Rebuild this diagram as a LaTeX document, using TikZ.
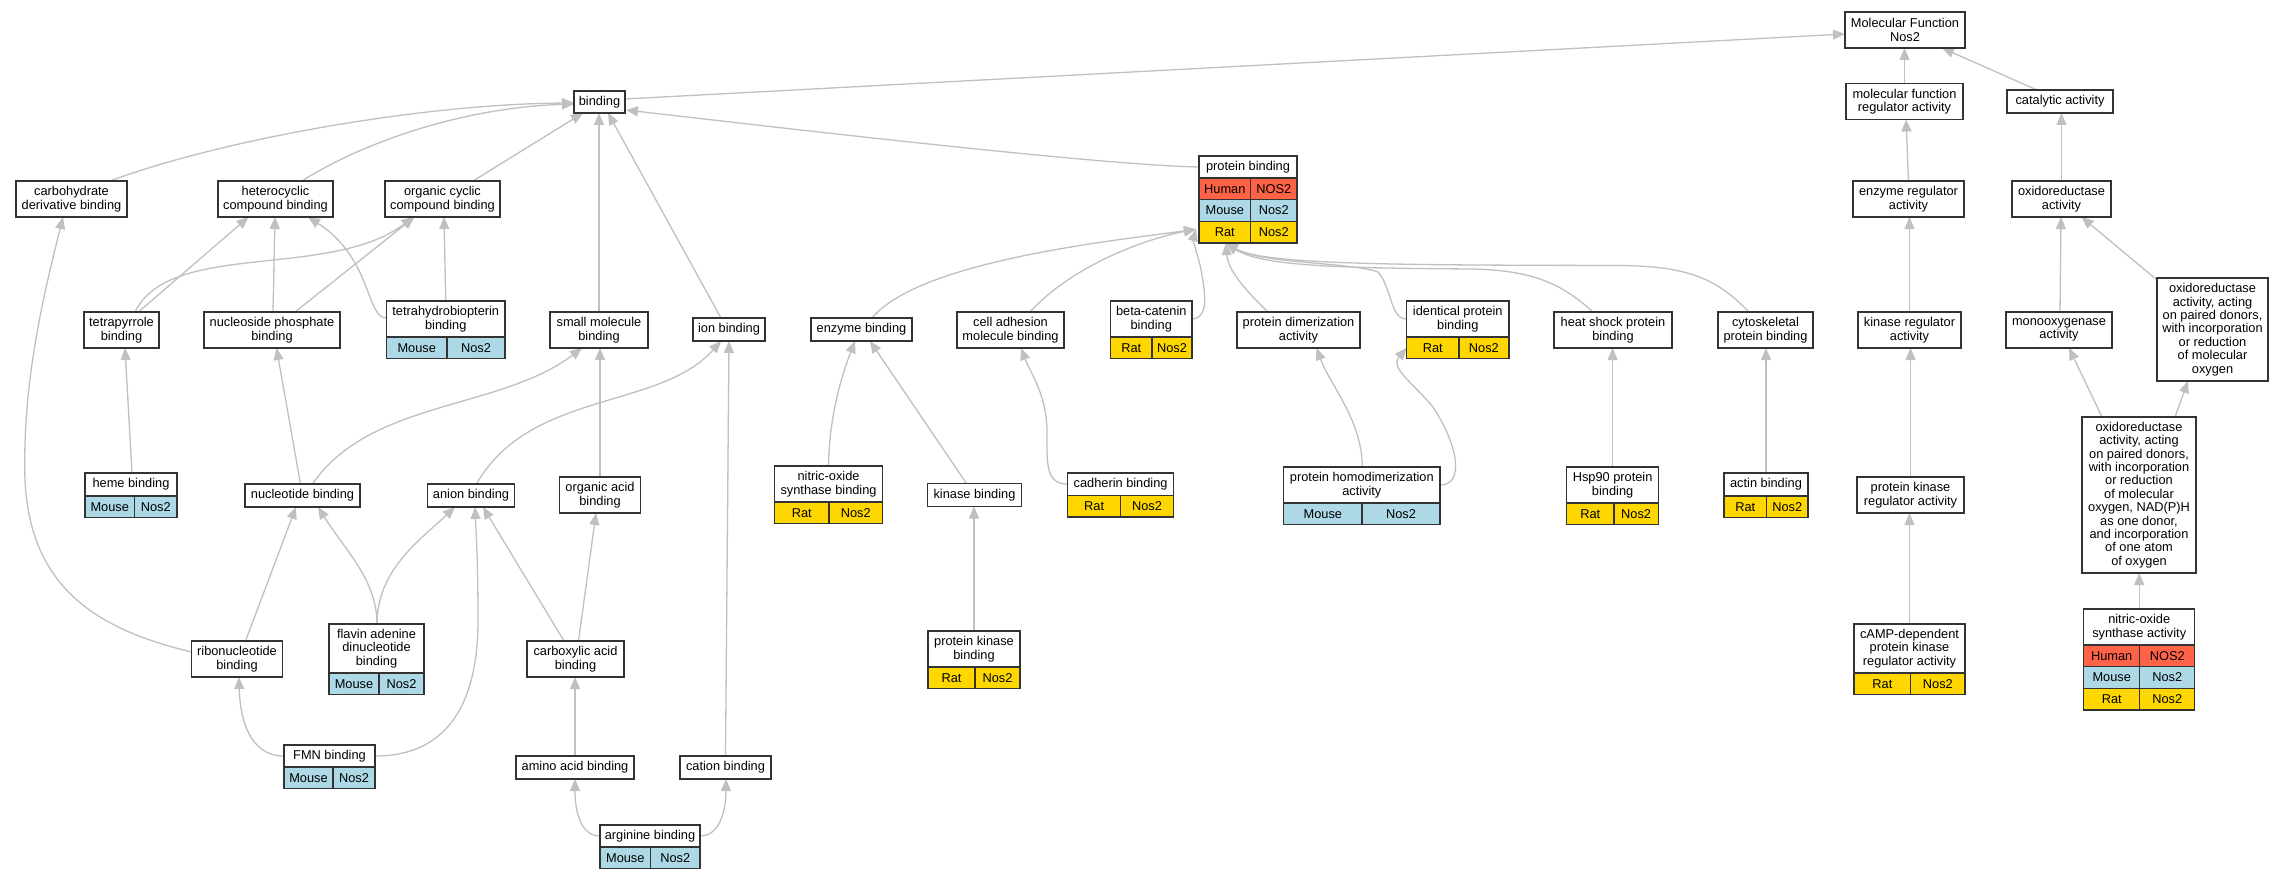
\documentclass[tikz,border=0pt]{standalone}
\usepackage{fontspec}
\setmainfont{Liberation Sans}
\usetikzlibrary{arrows.meta,calc}
\pgfdeclarelayer{bg}
\pgfsetlayers{bg,main}
\definecolor{human}{HTML}{FF6347}
\definecolor{mouse}{HTML}{ADD8E6}
\definecolor{rat}{HTML}{FFD700}
\definecolor{edgegray}{HTML}{C0C0C0}
\definecolor{boxline}{HTML}{333333}
\newcommand{\gofont}{\fontsize{12.8pt}{13.4pt}\selectfont}
\newcommand{\trow}[8]{%
  \node[cell,fill=#4,minimum width=#5pt,anchor=north west] (#3a) at (#1) {#7};%
  \node[cell,fill=#4,minimum width=#6pt,anchor=north east] (#3b) at (#2) {#8};}
\begin{document}
\begin{tikzpicture}[x=1pt,y=-1pt,
  box/.style={draw=boxline,line width=1.4pt,fill=white,inner sep=0pt,outer sep=0pt,align=center,font=\gofont,text=black},
  cell/.style={box,minimum height=21.7pt},
  edge/.style={draw=edgegray,line width=1.3pt,-{Triangle[length=12pt,width=10pt]}}]
\useasboundingbox (0,0) rectangle (2283,880);
% plain nodes
\node[box,minimum width=120pt,minimum height=36pt] (mf) at (1905,30) {Molecular Function\\Nos2};
\node[box,minimum width=117pt,minimum height=36pt] (mfr) at (1904.5,101.5) {molecular function\\regulator activity};
\node[box,minimum width=106pt,minimum height=23pt] (cat) at (2060,101.5) {catalytic activity};
\node[box,minimum width=51pt,minimum height=22pt] (bind) at (599.5,102) {binding};
\node[box,minimum width=111pt,minimum height=36pt] (carb) at (71.5,199) {carbohydrate\\derivative binding};
\node[box,minimum width=115pt,minimum height=36pt] (het) at (275.5,199) {heterocyclic\\compound binding};
\node[box,minimum width=115pt,minimum height=36pt] (occ) at (442.5,199) {organic cyclic\\compound binding};
\node[box,minimum width=111pt,minimum height=36pt] (enzreg) at (1908.5,199) {enzyme regulator\\activity};
\node[box,minimum width=99pt,minimum height=36pt] (oxact) at (2061.5,199) {oxidoreductase\\activity};
\node[box,minimum width=75pt,minimum height=36pt] (tetra) at (121.5,330) {tetrapyrrole\\binding};
\node[box,minimum width=136pt,minimum height=36pt] (nucp) at (272,330) {nucleoside phosphate\\binding};
\node[box,minimum width=98pt,minimum height=36pt] (small) at (599,330) {small molecule\\binding};
\node[box,minimum width=72pt,minimum height=23pt] (ion) at (729,329.5) {ion binding};
\node[box,minimum width=101pt,minimum height=23pt] (enz) at (861.5,329.5) {enzyme binding};
\node[box,minimum width=107pt,minimum height=36pt] (celladh) at (1010.5,330) {cell adhesion\\molecule binding};
\node[box,minimum width=123pt,minimum height=36pt] (dimer) at (1298.5,330) {protein dimerization\\activity};
\node[box,minimum width=118pt,minimum height=36pt] (heat) at (1613,330) {heat shock protein\\binding};
\node[box,minimum width=95pt,minimum height=36pt] (cyto) at (1765.5,330) {cytoskeletal\\protein binding};
\node[box,minimum width=103pt,minimum height=36pt] (kinreg) at (1909.5,330) {kinase regulator\\activity};
\node[box,minimum width=106pt,minimum height=36pt] (mono) at (2059,330) {monooxygenase\\activity};
\node[box,minimum width=111pt,minimum height=103pt] (oxmol) at (2212.5,329.5) {oxidoreductase\\activity, acting\\on paired donors,\\with incorporation\\or reduction\\of molecular\\oxygen};
\node[box,minimum width=115pt,minimum height=23pt] (nucl) at (302.5,495.5) {nucleotide binding};
\node[box,minimum width=87pt,minimum height=23pt] (anion) at (471,495.5) {anion binding};
\node[box,minimum width=81pt,minimum height=36pt] (oacid) at (600,495) {organic acid\\binding};
\node[box,minimum width=94pt,minimum height=23pt] (kin) at (974.5,495) {kinase binding};
\node[box,minimum width=107pt,minimum height=36pt] (pkreg) at (1910.5,495) {protein kinase\\regulator activity};
\node[box,minimum width=114pt,minimum height=156pt] (oxnad) at (2139,495) {oxidoreductase\\activity, acting\\on paired donors,\\with incorporation\\or reduction\\of molecular\\oxygen, NAD(P)H\\as one donor,\\and incorporation\\of one atom\\of oxygen};
\node[box,minimum width=91pt,minimum height=36pt] (ribo) at (237,659) {ribonucleotide\\binding};
\node[box,minimum width=97pt,minimum height=36pt] (carbox) at (575.5,659) {carboxylic acid\\binding};
\node[box,minimum width=118pt,minimum height=23pt] (amino) at (575,767.5) {amino acid binding};
\node[box,minimum width=91pt,minimum height=23pt] (cation) at (725.5,767.5) {cation binding};
% table nodes
\node[box,minimum width=118.5pt,minimum height=36pt] (thb) at (445.75,319) {tetrahydrobiopterin\\binding};
\trow{thb.south west}{thb.south east}{thb1}{mouse}{60.5}{58}{Mouse}{Nos2}
\node[box,minimum width=92pt,minimum height=23pt] (heme) at (131,484.5) {heme binding};
\trow{heme.south west}{heme.south east}{heme1}{mouse}{49.5}{42.5}{Mouse}{Nos2}
\node[box,minimum width=95pt,minimum height=49pt] (fad) at (376.5,648.5) {flavin adenine\\dinucleotide\\binding};
\trow{fad.south west}{fad.south east}{fad1}{mouse}{50}{45}{Mouse}{Nos2}
\node[box,minimum width=91pt,minimum height=22pt] (fmn) at (329.5,756) {FMN binding};
\trow{fmn.south west}{fmn.south east}{fmn1}{mouse}{49}{42}{Mouse}{Nos2}
\node[box,minimum width=100pt,minimum height=22pt] (arg) at (650,836) {arginine binding};
\trow{arg.south west}{arg.south east}{arg1}{mouse}{50.6}{49.4}{Mouse}{Nos2}
\node[box,minimum width=98pt,minimum height=22pt] (pb) at (1248,167) {protein binding};
\trow{pb.south west}{pb.south east}{pb1}{human}{51.6}{46.4}{Human}{NOS2}
\trow{pb1a.south west}{pb1b.south east}{pb2}{mouse}{51.6}{46.4}{Mouse}{Nos2}
\trow{pb2a.south west}{pb2b.south east}{pb3}{rat}{51.6}{46.4}{Rat}{Nos2}
\node[box,minimum width=81.5pt,minimum height=36pt] (bcat) at (1151.25,319) {beta-catenin\\binding};
\trow{bcat.south west}{bcat.south east}{bcat1}{rat}{41.5}{40}{Rat}{Nos2}
\node[box,minimum width=102.4pt,minimum height=36pt] (ident) at (1457.8,319) {identical protein\\binding};
\trow{ident.south west}{ident.south east}{ident1}{rat}{52.2}{50.2}{Rat}{Nos2}
\node[box,minimum width=107.9pt,minimum height=36pt] (nosb) at (828.55,484) {nitric-oxide\\synthase binding};
\trow{nosb.south west}{nosb.south east}{nosb1}{rat}{54.4}{53.5}{Rat}{Nos2}
\node[box,minimum width=105.8pt,minimum height=22.3pt] (cadh) at (1120.6,484.2) {cadherin binding};
\trow{cadh.south west}{cadh.south east}{cadh1}{rat}{52.9}{52.9}{Rat}{Nos2}
\node[box,minimum width=156.4pt,minimum height=36pt] (homod) at (1361.8,485) {protein homodimerization\\activity};
\trow{homod.south west}{homod.south east}{homod1}{mouse}{78.4}{78}{Mouse}{Nos2}
\node[box,minimum width=91.8pt,minimum height=36pt] (hsp) at (1612.6,485) {Hsp90 protein\\binding};
\trow{hsp.south west}{hsp.south east}{hsp1}{rat}{47.1}{44.7}{Rat}{Nos2}
\node[box,minimum width=84pt,minimum height=23pt] (actin) at (1766,484.5) {actin binding};
\trow{actin.south west}{actin.south east}{actin1}{rat}{42.4}{41.6}{Rat}{Nos2}
\node[box,minimum width=92pt,minimum height=36pt] (pkb) at (974,649) {protein kinase\\binding};
\trow{pkb.south west}{pkb.south east}{pkb1}{rat}{47}{45}{Rat}{Nos2}
\node[box,minimum width=111pt,minimum height=49pt] (camp) at (1909.5,648.5) {cAMP-dependent\\protein kinase\\regulator activity};
\trow{camp.south west}{camp.south east}{camp1}{rat}{56.7}{54.3}{Rat}{Nos2}
\node[box,minimum width=111pt,minimum height=36pt] (nosa) at (2139.2,627) {nitric-oxide\\synthase activity};
\trow{nosa.south west}{nosa.south east}{nosa1}{human}{56}{55}{Human}{NOS2}
\trow{nosa1a.south west}{nosa1b.south east}{nosa2}{mouse}{56}{55}{Mouse}{Nos2}
\trow{nosa2a.south west}{nosa2b.south east}{nosa3}{rat}{56}{55}{Rat}{Nos2}
% edges
\begin{pgfonlayer}{bg}
\fill[white] (0,0) rectangle (2283,880);
\draw[edge] ($(bind.east)+(0,-3)$) -- ($(mf.west)+(0,4)$);
\draw[edge] (mfr.north) -- (mfr.north |- mf.south);
\draw[edge] ($(cat.north)+(-23,0)$) -- ($(mf.south)+(37,0)$);
\draw[edge] ($(carb.north)+(38.5,0)$) .. controls (220,140) and (420,104) .. ($(bind.west)+(0,1)$);
\draw[edge] ($(het.north)+(26.5,0)$) .. controls (350,150) and (450,108) .. ($(bind.west)+(0,2)$);
\draw[edge] ($(occ.north)+(30.5,0)$) -- ($(bind.south)+(-16.5,0)$);
\draw[edge] (small.north) -- (small.north |- bind.south);
\draw[edge] ($(ion.north)+(-8,0)$) -- ($(bind.south)+(8.5,0)$);
\draw[edge] (pb.west) .. controls (1100,165) and (800,130) .. ($(bind.east)+(1,8)$);
\draw[edge] (enzreg.north) -- ($(mfr.south)+(1.5,0)$);
\draw[edge] (oxact.north) -- (oxact.north |- cat.south);
\draw[edge] ($(tetra.north)+(17,0)$) -- ($(het.south)+(-27,0)$);
\draw[edge] ($(tetra.north)+(13.5,0)$) .. controls (170,240) and (330,280) .. ($(occ.south)+(-29,0)$);
\draw[edge] ($(nucp.north)+(1,0)$) -- ($(het.south)+(-0.5,0)$);
\draw[edge] ($(nucp.north)+(23,0)$) -- ($(occ.south)+(-28,0)$);
\draw[edge] ($(thb.west)+(0,-1)$) .. controls (366,318) and (372,258) .. ($(het.south)+(32.5,0)$);
\draw[edge] (thb.north) -- ($(occ.south)+(1.5,0)$);
\draw[edge] ($(heme.north)+(1,0)$) -- ($(tetra.south)+(3.5,0)$);
\draw[edge] ($(nucl.north)+(-2,0)$) -- ($(nucp.south)+(4.5,0)$);
\draw[edge] ($(nucl.north)+(10,0)$) .. controls (370,400) and (500,410) .. ($(small.south)+(-17,0)$);
\draw[edge] ($(anion.north)+(5.5,0)$) .. controls (530,390) and (660,410) .. ($(ion.south)+(-8,0)$);
\draw[edge] (oacid.north) -- (oacid.north |- small.south);
\draw[edge] ($(ribo.north)+(8.5,0)$) -- ($(nucl.south)+(-6.5,0)$);
\draw[edge] ($(ribo.west)+(0,-7)$) .. controls (100,630) and (30,590) .. (25,480) .. controls (22,380) and (45,290) .. ($(carb.south)+(-8.5,0)$);
\draw[edge] ($(fad.north)+(0.5,0)$) .. controls (377,580) and (345,550) .. ($(nucl.south)+(15.5,0)$);
\draw[edge] ($(fad.north)+(0.5,0)$) .. controls (377,570) and (420,540) .. ($(anion.south)+(-16,0)$);
\draw[edge] ($(carbox.north)+(-11.5,0)$) -- ($(anion.south)+(12,0)$);
\draw[edge] ($(carbox.north)+(3,0)$) -- ($(oacid.south)+(-4,0)$);
\draw[edge] (fmn.west) .. controls (250,756) and (240,720) .. ($(ribo.south)+(2,0)$);
\draw[edge] (fmn.east) .. controls (450,756) and (478,700) .. (478,620) .. controls (478,560) and (476,530) .. ($(anion.south)+(4,0)$);
\draw[edge] (amino.north) -- (amino.north |- carbox.south);
\draw[edge] (arg.west) .. controls (580,836) and (575,810) .. (amino.south);
\draw[edge] (arg.east) .. controls (720,836) and (726,810) .. ($(cation.south)+(0.5,0)$);
\draw[edge] (cation.north) -- (ion.south);
\draw[edge] ($(enz.north)+(10.5,0)$) .. controls (920,260) and (1120,240) .. ($(pb3a.west)+(-3,-3)$);
\draw[edge] ($(celladh.north)+(19.5,0)$) .. controls (1070,268) and (1140,240) .. ($(pb3a.west)+(-3,-3)$);
\draw[edge] (bcat.east) .. controls (1210,318) and (1205,290) .. (1200,265) .. controls (1196,250) and (1193,240) .. ($(pb3a.west)+(-3,-3)$);
\draw[edge] ($(dimer.north)+(-30.5,0)$) .. controls (1245,290) and (1228,270) .. ($(pb3a.south)+(1,0)$);
\draw[edge] (ident.west) .. controls (1390,319) and (1392,288) .. (1378,272) .. controls (1350,262) and (1262,264) .. ($(pb3a.south)+(1,0)$);
\draw[edge] ($(heat.north)+(-20,0)$) .. controls (1560,282) and (1530,270) .. (1470,269) .. controls (1350,268) and (1262,267) .. ($(pb3a.south)+(1,0)$);
\draw[edge] ($(cyto.north)+(-16.5,0)$) .. controls (1718,280) and (1690,266) .. (1620,265.5) .. controls (1400,265) and (1264,265) .. ($(pb3a.south)+(1,0)$);
\draw[edge] ($(homod.north)+(0.5,0)$) .. controls (1362,420) and (1330,385) .. ($(dimer.south)+(18,0)$);
\draw[edge] (homod.east) .. controls (1465,485) and (1458,445) .. (1433,407) .. controls (1410,380) and (1390,368) .. (ident1a.west);
\draw[edge] (nosb.north) .. controls (829,420) and (840,380) .. ($(enz.south)+(-6.5,0)$);
\draw[edge] ($(kin.north)+(-8,0)$) -- ($(enz.south)+(8.5,0)$);
\draw[edge] (cadh.west) .. controls (1045,484) and (1047,462) .. (1047,432) .. controls (1047,395) and (1030,372) .. ($(celladh.south)+(10.5,0)$);
\draw[edge] (pkb.north) -- (pkb.north |- kin.south);
\draw[edge] (hsp.north) -- (hsp.north |- heat.south);
\draw[edge] (actin.north) -- (actin.north |- cyto.south);
\draw[edge] (kinreg.north) -- (kinreg.north |- enzreg.south);
\draw[edge] (pkreg.north) -- (pkreg.north |- kinreg.south);
\draw[edge] (camp.north) -- (camp.north |- pkreg.south);
\draw[edge] ($(mono.north)+(1,0)$) -- ($(oxact.south)+(-0.5,0)$);
\draw[edge] ($(oxmol.north west)+(0,2)$) -- ($(oxact.south)+(20,0)$);
\draw[edge] ($(oxnad.north)+(-37,0)$) -- ($(mono.south)+(10,0)$);
\draw[edge] ($(oxnad.north)+(36,0)$) -- ($(oxmol.south)+(-24.5,0)$);
\draw[edge] (nosa.north) -- (nosa.north |- oxnad.south);
\end{pgfonlayer}
\end{tikzpicture}
\end{document}
